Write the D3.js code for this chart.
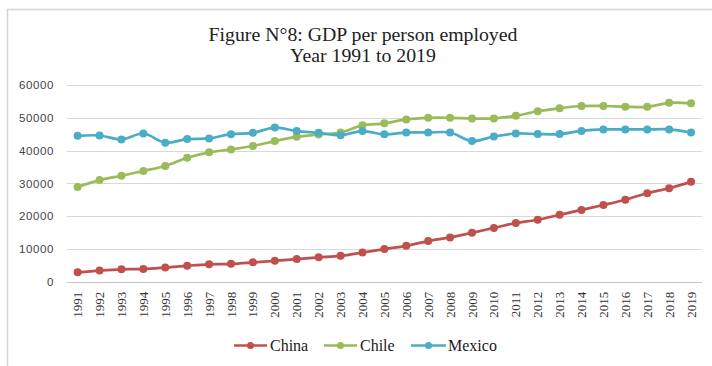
<!DOCTYPE html>
<html>
<head>
<meta charset="utf-8">
<script src="https://cdn.jsdelivr.net/npm/d3@7"></script>
<style>
  html, body { margin: 0; padding: 0; background: #fff; }
  svg { display: block; }
</style>
</head>
<body>
<svg id="chart" width="712" height="366"></svg>
<script>
// GDP per person employed, 1991–2019
const years = ["1991","1992","1993","1994","1995","1996","1997","1998","1999","2000",
  "2001","2002","2003","2004","2005","2006","2007","2008","2009","2010",
  "2011","2012","2013","2014","2015","2016","2017","2018","2019"];

const china = [2870, 3400, 3780, 3850, 4300, 4850, 5300, 5450, 5900, 6400,
  6900, 7430, 7900, 8900, 9950, 10950, 12400, 13500, 14900, 16400,
  17900, 18900, 20400, 21900, 23400, 25000, 27000, 28500, 30450];

const chile = [28900, 31000, 32300, 33800, 35300, 37800, 39450, 40350, 41400, 42900,
  44200, 44900, 45500, 47700, 48300, 49500, 50000, 50000, 49800, 49800,
  50600, 52000, 52900, 53600, 53600, 53400, 53350, 54550, 54400];

const mexico = [44500, 44600, 43400, 45200, 42400, 43500, 43700, 45000, 45400, 47000,
  45950, 45400, 44700, 45950, 44950, 45500, 45500, 45500, 42900, 44300,
  45200, 45030, 45030, 46000, 46450, 46450, 46450, 46450, 45500];

const yTicks = [0, 10000, 20000, 30000, 40000, 50000, 60000];

const seriesNames = ["China", "Chile", "Mexico"];
const seriesColors = ["#c0504d", "#9bbb59", "#4bacc6"];
const seriesValues = [china, chile, mexico];

const svg = d3.select("#chart");

// chart frame
svg.append("rect")
  .attr("x", 7.5).attr("y", 9.5)
  .attr("width", 720).attr("height", 380)
  .attr("fill", "none")
  .attr("stroke", "#d4d4d4")
  .attr("stroke-width", 1.5);

// title
const title = svg.append("text")
  .attr("x", 363)
  .attr("text-anchor", "middle")
  .style("font-family", "'Liberation Serif', 'Times New Roman', serif")
  .style("font-size", "19.8px")
  .attr("fill", "#222");
title.append("tspan").attr("x", 363).attr("y", 41).text("Figure N°8: GDP per person employed");
title.append("tspan").attr("x", 363).attr("y", 62).text("Year 1991 to 2019");

const x = d3.scaleBand().domain(years).range([66.7, 702]).paddingInner(0).paddingOuter(0);
const y = d3.scaleLinear().domain([0, 60000]).range([281.7, 85]);
const cx = d => x(d) + x.bandwidth() / 2;

// horizontal gridlines
svg.append("g")
  .selectAll("line")
  .data(yTicks)
  .join("line")
  .attr("x1", 66.7).attr("x2", 702)
  .attr("y1", d => Math.round(y(d)) + 0.5)
  .attr("y2", d => Math.round(y(d)) + 0.5)
  .attr("stroke", d => d === 0 ? "#c8c8c8" : "#d9d9d9")
  .attr("stroke-width", 1.2);

// y axis labels
const yAxis = d3.axisLeft(y).tickValues(yTicks).tickSize(0).tickPadding(0).tickFormat(d3.format("d"));
const gy = svg.append("g").attr("transform", "translate(54,0)").call(yAxis);
gy.select(".domain").remove();
gy.selectAll("text")
  .style("font-family", "'Liberation Sans', Arial, sans-serif")
  .style("font-size", "11.5px")
  .style("letter-spacing", "0.6px")
  .attr("fill", "#444");

// x axis labels, rotated
const xAxis = d3.axisBottom(x).tickSize(0).tickPadding(0);
const gx = svg.append("g").attr("transform", "translate(0,281.7)").call(xAxis);
gx.select(".domain").remove();
gx.selectAll("text")
  .attr("transform", "rotate(-90)")
  .attr("x", -10)
  .attr("y", 0)
  .attr("dy", "0.35em")
  .attr("text-anchor", "end")
  .style("font-family", "'Liberation Serif', 'Times New Roman', serif")
  .style("font-size", "13px")
  .attr("fill", "#333");

// series lines and markers
const line = d3.line()
  .x((d, i) => cx(years[i]))
  .y(d => y(d))
  .curve(d3.curveCatmullRom.alpha(0.5));

seriesValues.forEach((vals, k) => {
  const g = svg.append("g");
  g.append("path")
    .datum(vals)
    .attr("d", line)
    .attr("fill", "none")
    .attr("stroke", seriesColors[k])
    .attr("stroke-width", 2.7)
    .attr("stroke-linejoin", "round");
  g.selectAll("circle")
    .data(vals)
    .join("circle")
    .attr("cx", (d, i) => cx(years[i]))
    .attr("cy", d => y(d))
    .attr("r", 4)
    .attr("fill", seriesColors[k]);
});

// legend
const legendItems = [
  { x0: 234, x1: 267, tx: 270 },
  { x0: 324, x1: 357, tx: 360 },
  { x0: 411, x1: 446, tx: 448 }
];
const ly = 345.5;
const legend = svg.append("g");
seriesNames.forEach((name, k) => {
  const it = legendItems[k];
  legend.append("line")
    .attr("x1", it.x0).attr("x2", it.x1)
    .attr("y1", ly).attr("y2", ly)
    .attr("stroke", seriesColors[k]).attr("stroke-width", 2.7);
  legend.append("circle")
    .attr("cx", (it.x0 + it.x1) / 2).attr("cy", ly).attr("r", 3.5)
    .attr("fill", seriesColors[k]);
  legend.append("text")
    .attr("x", it.tx).attr("y", ly)
    .attr("dy", "0.33em")
    .style("font-family", "'Liberation Serif', 'Times New Roman', serif")
    .style("font-size", "16px")
    .attr("fill", "#1a1a1a")
    .text(name);
});
</script>
</body>
</html>
